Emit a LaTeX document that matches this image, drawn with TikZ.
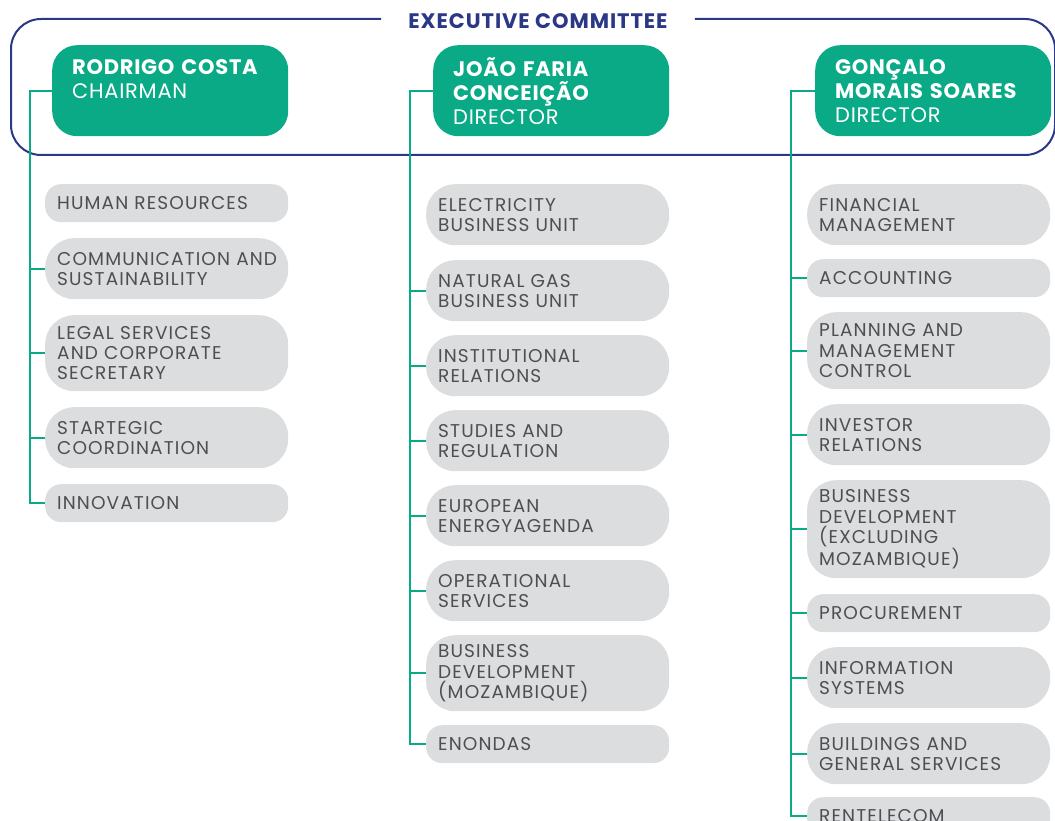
\documentclass[tikz,border=0pt]{standalone}
\usepackage{fontspec}
\setmainfont{Poppins}[LetterSpace=6]
\usetikzlibrary{positioning}
\definecolor{ExecClr}{HTML}{0AAA87}
\definecolor{FrameClr}{HTML}{2B3886}
\definecolor{UnitClr}{HTML}{DCDDDF}
\definecolor{UnitTxtClr}{HTML}{4D4F53}

\begin{document}
\begin{tikzpicture}[x=1pt,y=-1pt,
  exec/.style={fill=ExecClr,rounded corners=25pt,minimum width=236pt,minimum height=91pt,
    text width=196pt,inner xsep=20pt,inner ysep=0pt,align=left,text=white,
    font=\fontsize{21}{24}\selectfont\addfontfeatures{LetterSpace=3.5},anchor=north west},
  unit/.style={fill=UnitClr,rounded corners=29pt,minimum width=243pt,text width=219pt,
    inner xsep=12pt,inner ysep=0pt,align=left,text=UnitTxtClr,
    font=\fontsize{18.5}{20.2}\selectfont,anchor=north west},
  short/.style={rounded corners=16pt},
  title/.style={text=FrameClr,font=\fontsize{21}{24}\selectfont\bfseries\addfontfeatures{LetterSpace=4.5},
    inner xsep=27pt},
  link/.style={draw=ExecClr,line width=2pt},
  frame/.style={draw=FrameClr,line width=2pt,rounded corners=30pt}]
\useasboundingbox (0,0) rectangle (1055,821);

% committee frame
\node[title] (committee) at (538,21) {EXECUTIVE COMMITTEE};
\coordinate (frametop) at (0,19);
\draw[frame] (committee.west |- frametop) -| (11,155) -| (1055,19) -- (committee.east |- frametop);

% executive members
\node[exec] (rc) at (52,45) {\textbf{RODRIGO COSTA}\\CHAIRMAN\\\mbox{}};
\node[exec] (jfc) at (433,45) {\textbf{JOÃO FARIA}\\\textbf{CONCEIÇÃO}\\DIRECTOR};
\node[exec] (gms) at (815,45) {\textbf{GONÇALO}\\\textbf{MORAIS SOARES}\\DIRECTOR};

% chairman units
\node[unit,short,minimum height=38] (hr) at (45,184) {HUMAN RESOURCES};
\node[unit,minimum height=61] (cs) at (45,238) {\mbox{COMMUNICATION AND}\\SUSTAINABILITY};
\node[unit,minimum height=76] (ls) at (45,315) {LEGAL SERVICES\\AND CORPORATE\\SECRETARY};
\node[unit,minimum height=61] (sc) at (45,407) {STARTEGIC\\COORDINATION};
\node[unit,short,minimum height=38] (inno) at (45,484) {INNOVATION};

% units of joao faria conceicao
\node[unit,minimum height=61] (ebu) at (426,184) {ELECTRICITY\\BUSINESS UNIT};
\node[unit,minimum height=61] (ngbu) at (426,260) {NATURAL GAS\\BUSINESS UNIT};
\node[unit,minimum height=61] (ir) at (426,335) {INSTITUTIONAL\\RELATIONS};
\node[unit,minimum height=61] (sr) at (426,410) {STUDIES AND\\REGULATION};
\node[unit,minimum height=61] (eea) at (426,485) {EUROPEAN\\ENERGYAGENDA};
\node[unit,minimum height=61] (os) at (426,560) {OPERATIONAL\\SERVICES};
\node[unit,minimum height=76] (bdm) at (426,635) {BUSINESS\\DEVELOPMENT\\(MOZAMBIQUE)};
\node[unit,short,minimum height=38] (eno) at (426,725) {ENONDAS};

% units of goncalo morais soares
\node[unit,minimum height=61] (fm) at (807,184) {FINANCIAL\\MANAGEMENT};
\node[unit,short,minimum height=38] (acc) at (807,259) {ACCOUNTING};
\node[unit,minimum height=77] (pmc) at (807,312) {PLANNING AND\\MANAGEMENT\\CONTROL};
\node[unit,minimum height=61] (inv) at (807,404) {INVESTOR\\RELATIONS};
\node[unit,minimum height=98] (bdx) at (807,480) {BUSINESS\\DEVELOPMENT\\(EXCLUDING\\MOZAMBIQUE)};
\node[unit,short,minimum height=38] (proc) at (807,594) {PROCUREMENT};
\node[unit,minimum height=61] (is) at (807,647) {INFORMATION\\SYSTEMS};
\node[unit,minimum height=61] (bgs) at (807,723) {BUILDINGS AND\\GENERAL SERVICES};
\node[unit,short,minimum height=38] (rent) at (807,797) {RENTELECOM};

% links
\draw[link] (rc.west) -- ++(-22,0) coordinate (rcbus) |- (inno.west);
\draw[link] (rcbus) |- (cs.west);
\draw[link] (rcbus) |- (ls.west);
\draw[link] (rcbus) |- (sc.west);

\draw[link] (jfc.west) -- ++(-23,0) coordinate (jfcbus) |- (eno.west);
\draw[link] (jfcbus) |- (ngbu.west);
\draw[link] (jfcbus) |- (ir.west);
\draw[link] (jfcbus) |- (sr.west);
\draw[link] (jfcbus) |- (eea.west);
\draw[link] (jfcbus) |- (os.west);
\draw[link] (jfcbus) |- (bdm.west);

\draw[link] (gms.west) -- ++(-24,0) coordinate (gmsbus) |- (rent.west);
\draw[link] (gmsbus) |- (acc.west);
\draw[link] (gmsbus) |- (pmc.west);
\draw[link] (gmsbus) |- (inv.west);
\draw[link] (gmsbus) |- (bdx.west);
\draw[link] (gmsbus) |- (proc.west);
\draw[link] (gmsbus) |- (is.west);
\draw[link] (gmsbus) |- (bgs.west);

\end{tikzpicture}
\end{document}
